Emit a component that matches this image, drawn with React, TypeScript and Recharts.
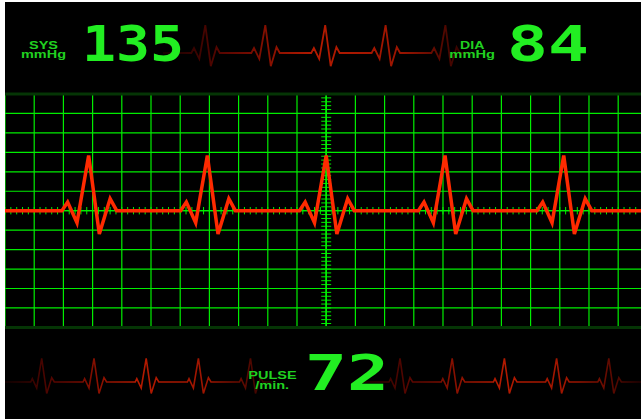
import React from 'react';
import { LineChart, Line, XAxis, YAxis, CartesianGrid, ReferenceLine } from 'recharts';

// vital readings
const sysValue = '135';
const diaValue = '84';
const pulseValue = '72';

// main strip: time in ms, amplitude in mV (200 ms x 0.5 mV per big square)
const mainTime = [
  0, 390, 429, 493, 573, 646, 720, 765,
  1203, 1242, 1306, 1386, 1459, 1533, 1578,
  2017, 2056, 2120, 2200, 2273, 2347, 2392,
  2831, 2870, 2934, 3014, 3087, 3161, 3206,
  3644, 3683, 3747, 3827, 3900, 3974, 4019,
  4400,
];
const mainMv = [
  0, 0, 0.22, -0.31, 1.42, -0.6, 0.31, 0,
  0, 0.22, -0.31, 1.42, -0.6, 0.31, 0,
  0, 0.22, -0.31, 1.42, -0.6, 0.31, 0,
  0, 0.22, -0.31, 1.42, -0.6, 0.31, 0,
  0, 0.22, -0.31, 1.42, -0.6, 0.31, 0,
  0,
];
const gridTimeTicks = [0, 200, 400, 600, 800, 1000, 1200, 1400, 1600, 1800, 2000, 2200, 2400, 2600, 2800, 3000, 3200, 3400, 3600, 3800, 4000, 4200, 4400];
const gridMvTicks = [-3, -2.5, -2, -1.5, -1, -0.5, 0, 0.5, 1, 1.5, 2, 2.5, 3];

// small faded trace behind the blood pressure readout
const topTime = [
  1580, 1863, 1890, 1943, 2003, 2058, 2115, 2148,
  2463, 2490, 2543, 2603, 2658, 2715, 2748,
  3062, 3089, 3142, 3202, 3257, 3314, 3347,
  3666, 3693, 3746, 3806, 3861, 3918, 3951,
  4264, 4291, 4344, 4404, 4459, 4516, 4549,
  4650,
];
const topMv = [
  0, 0, 0.25, -0.29, 1.39, -0.66, 0.3, 0,
  0, 0.25, -0.29, 1.39, -0.66, 0.3, 0,
  0, 0.25, -0.29, 1.39, -0.66, 0.3, 0,
  0, 0.25, -0.29, 1.39, -0.66, 0.3, 0,
  0, 0.25, -0.29, 1.39, -0.66, 0.3, 0,
  0,
];

// pulse traces in the bottom panel
const pulseLeftTime = [
  0, 257, 273, 317, 367, 417, 467, 493,
  780, 796, 840, 890, 940, 990, 1016,
  1302, 1318, 1362, 1412, 1462, 1512, 1538,
  1824, 1840, 1884, 1934, 1984, 2034, 2060,
  2345, 2361, 2405, 2455, 2505, 2555, 2581,
  2670,
];
const pulseLeftMv = [
  0, 0, 0.17, -0.3, 1.18, -0.57, 0.22, 0,
  0, 0.17, -0.3, 1.18, -0.57, 0.22, 0,
  0, 0.17, -0.3, 1.18, -0.57, 0.22, 0,
  0, 0.17, -0.3, 1.18, -0.57, 0.22, 0,
  0, 0.17, -0.3, 1.18, -0.57, 0.22, 0,
  0,
];
const pulseRightTime = [
  3500, 3840, 3856, 3900, 3950, 4000, 4050, 4076,
  4362, 4378, 4422, 4472, 4522, 4572, 4598,
  4884, 4900, 4944, 4994, 5044, 5094, 5120,
  5406, 5422, 5466, 5516, 5566, 5616, 5642,
  5928, 5944, 5988, 6038, 6088, 6138, 6164,
  6360,
];
const pulseRightMv = [
  0, 0, 0.17, -0.3, 1.18, -0.57, 0.22, 0,
  0, 0.17, -0.3, 1.18, -0.57, 0.22, 0,
  0, 0.17, -0.3, 1.18, -0.57, 0.22, 0,
  0, 0.17, -0.3, 1.18, -0.57, 0.22, 0,
  0, 0.17, -0.3, 1.18, -0.57, 0.22, 0,
  0,
];

const GREEN = '#00ee00';
const RED = '#ff2a00';

// minor ticks on the centre axes (40 ms / 0.1 mV)
const minorTimeTicks = Array.from({ length: 111 }, (_, i) => i * 40);
const minorMvTicks = Array.from({ length: 61 }, (_, i) => Math.round((i - 30)) / 10);

const mainData = mainTime.map((t, i) => ({ t, mv: mainMv[i] }));
const topData = topTime.map((t, i) => ({ t, mv: topMv[i] }));
const bottomData = [
  ...pulseLeftTime.map((t, i) => ({ t, left: pulseLeftMv[i] })),
  ...pulseRightTime.map((t, i) => ({ t, right: pulseRightMv[i] })),
];

const Fade = ({ id }: { id: string }) => (
  <linearGradient id={id} x1="0" y1="0" x2="1" y2="0">
    <stop offset="0" stopColor="#140000" />
    <stop offset="0.2" stopColor="#5c0600" />
    <stop offset="0.5" stopColor="#b41a00" />
    <stop offset="0.78" stopColor="#9a1400" />
    <stop offset="1" stopColor="#240000" />
  </linearGradient>
);

const label = {
  fontFamily: '"Liberation Sans", Arial, sans-serif',
  fontWeight: 700,
  fontSize: 10,
  fill: '#20d020',
  textAnchor: 'middle' as const,
  lengthAdjust: 'spacingAndGlyphs',
};
const digits = {
  fontFamily: '"DejaVu Sans Mono", monospace',
  fontWeight: 700,
  fontSize: 50,
  fill: '#22ee22',
  lengthAdjust: 'spacingAndGlyphs',
};

export default function App() {
  return (
    <div style={{ position: 'absolute', left: 5, top: 2, width: 636, height: 417, background: '#000', overflow: 'hidden' }}>
      <div style={{ position: 'absolute', left: 0, top: 6.3 }}>
        <LineChart width={636} height={90} data={topData} margin={{ top: 0, right: 0, bottom: 0, left: 0 }}>
          <defs>
            <Fade id="topFade" />
          </defs>
          <XAxis type="number" dataKey="t" domain={[0, 6360]} hide />
          <YAxis type="number" domain={[-2.25, 2.25]} hide />
          <Line dataKey="mv" stroke="url(#topFade)" strokeWidth={1.8} dot={false} isAnimationActive={false} />
        </LineChart>
      </div>

      <div style={{ position: 'absolute', left: 0, top: 343.7 }}>
        <LineChart width={636} height={72} data={bottomData} margin={{ top: 0, right: 0, bottom: 0, left: 0 }}>
          <defs>
            <Fade id="pulseFade" />
          </defs>
          <XAxis type="number" dataKey="t" domain={[0, 6360]} hide />
          <YAxis type="number" domain={[-1.8, 1.8]} hide />
          <Line dataKey="left" stroke="url(#pulseFade)" strokeWidth={1.6} dot={false} isAnimationActive={false} />
          <Line dataKey="right" stroke="url(#pulseFade)" strokeWidth={1.6} dot={false} isAnimationActive={false} />
        </LineChart>
      </div>

      <div style={{ position: 'absolute', left: 0, top: 90 }}>
        <LineChart width={642.4} height={237.4} data={mainData} margin={{ top: 2, right: 0, bottom: 2, left: 0 }}>
          <XAxis type="number" dataKey="t" domain={[0, 4400]} ticks={gridTimeTicks} interval={0} hide />
          <YAxis type="number" domain={[-3, 3]} ticks={gridMvTicks} interval={0} hide />
          <CartesianGrid stroke={GREEN} strokeWidth={1.2} />
          <ReferenceLine x={2200} stroke={GREEN} strokeWidth={1.6} />
          <ReferenceLine y={0} stroke={GREEN} strokeWidth={1.2} />
          {minorTimeTicks.map((t) => (
            <ReferenceLine key={'mt' + t} segment={[{ x: t, y: -0.095 }, { x: t, y: 0.095 }]} stroke={GREEN} strokeWidth={1} />
          ))}
          {minorMvTicks.map((v) => (
            <ReferenceLine key={'mv' + v} segment={[{ x: 2166, y: v }, { x: 2234, y: v }]} stroke={GREEN} strokeWidth={1} />
          ))}
          <ReferenceLine y={3} stroke="#053505" strokeWidth={3} />
          <ReferenceLine y={-3} stroke="#053505" strokeWidth={3} />
          <Line dataKey="mv" stroke={RED} strokeWidth={3.5} dot={false} isAnimationActive={false} />
        </LineChart>
      </div>

      <svg width={641} height={419} style={{ position: 'absolute', left: -5, top: -2, pointerEvents: 'none' }}>
        <text x={43.5} y={49.3} textLength={29} {...label}>SYS</text>
        <text x={43.5} y={57.8} textLength={45} {...label}>mmHg</text>
        <text x={472.2} y={49.3} textLength={24.3} {...label}>DIA</text>
        <text x={472.2} y={57.8} textLength={45.7} {...label}>mmHg</text>
        <text x={272.5} y={379} textLength={48.4} {...label}>PULSE</text>
        <text x={272.2} y={388.7} textLength={34} {...label}>/min.</text>
        <text x={82} y={60.7} textLength={102} {...digits}>{sysValue}</text>
        <text x={507} y={60.7} textLength={82} {...digits}>{diaValue}</text>
        <text x={305} y={390} textLength={84} {...digits}>{pulseValue}</text>
      </svg>
    </div>
  );
}
